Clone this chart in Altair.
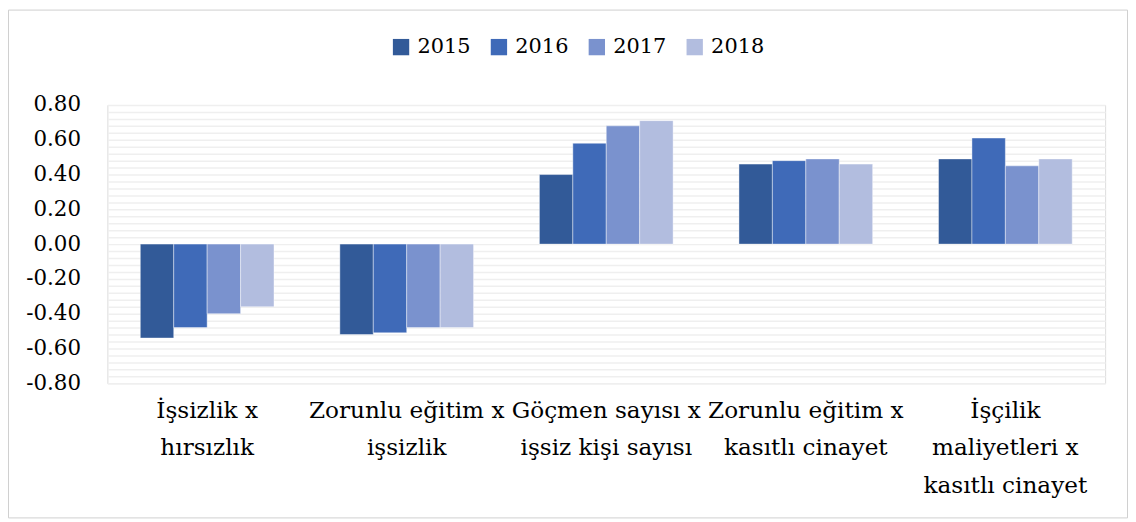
import altair as alt
import pandas as pd

categories = [
    "İşsizlik x\nhırsızlık",
    "Zorunlu eğitim x\nişsizlik",
    "Göçmen sayısı x\nişsiz kişi sayısı",
    "Zorunlu eğitim x\nkasıtlı cinayet",
    "İşçilik\nmaliyetleri x\nkasıtlı cinayet",
]
years = ["2015", "2016", "2017", "2018"]
v2015 = [-0.54, -0.52, 0.40, 0.46, 0.49]
v2016 = [-0.48, -0.51, 0.58, 0.48, 0.61]
v2017 = [-0.40, -0.48, 0.68, 0.49, 0.45]
v2018 = [-0.36, -0.48, 0.71, 0.46, 0.49]
colors = ["#325A98", "#3F6AB8", "#7A92CE", "#B2BDDF"]
major_ticks = [-0.8, -0.6, -0.4, -0.2, 0.0, 0.2, 0.4, 0.6, 0.8]
minor_ticks = [round(-0.8 + 0.04 * i, 2) for i in range(41)]

rows = []
for y, vals in zip(years, [v2015, v2016, v2017, v2018]):
    for c, v in zip(categories, vals):
        rows.append({"cat": c, "year": y, "value": v})
df = pd.DataFrame(rows)

FONT = "DejaVu Serif"
W, H = 1004, 280
PL, PT, PR, PB = 100, 96, 23, 136

yscale = alt.Scale(domain=[-0.8, 0.8], nice=False, zero=False)
xenc = alt.X(
    "cat:N", sort=categories, title=None,
    scale=alt.Scale(paddingInner=0.33, paddingOuter=0.165),
    axis=alt.Axis(labelAngle=0, labelAlign="center", labelBaseline="top",
                  ticks=False, domain=False, grid=False,
                  labelFontSize=23.3, labelFont=FONT, labelColor="#000000",
                  labelLineHeight=38, labelPadding=16, labelLimit=400,
                  labelOverlap=False,
                  labelExpr="split(datum.label, '\\n')"),
)

bars = alt.Chart(df).mark_bar(stroke="white", strokeWidth=0.6, strokeOpacity=0.7).encode(
    x=xenc,
    xOffset=alt.XOffset("year:N", sort=years),
    y=alt.Y("value:Q", scale=yscale, title=None,
            axis=alt.Axis(values=major_ticks, ticks=False, domain=False,
                          labelExpr="replace(format(datum.value, '.2f'), '\u2212', '-')",
                          labelFontSize=21.5, labelFont=FONT, labelColor="#000000",
                          labelPadding=27, gridColor="#d9d9d9", gridWidth=1.5)),
    color=alt.Color("year:N", sort=years,
                    scale=alt.Scale(domain=years, range=colors),
                    legend=alt.Legend(title=None, orient="none", legendX=285, legendY=-69,
                                      direction="horizontal", columns=4,
                                      symbolType="square", symbolSize=270,
                                      symbolStrokeWidth=0, labelFontSize=21,
                                      labelFont=FONT, labelColor="#000000",
                                      columnPadding=17.5, labelOffset=6)),
)

minor = alt.Chart(df).mark_bar(opacity=0).encode(
    x=alt.X("cat:N", sort=categories),
    y=alt.Y("value:Q", scale=yscale, title=None,
            axis=alt.Axis(orient="right", values=minor_ticks, labels=False, ticks=False,
                          domain=False, gridColor="#efefef", gridWidth=1.5)),
)

border = alt.Chart(alt.Data(values=[{}])).mark_rect(
    fill=None, stroke="#d0d0d0", strokeWidth=1
).encode(
    x=alt.value(-PL + 0.5), x2=alt.value(W + PR - 0.5),
    y=alt.value(-PT + 0.5), y2=alt.value(H + PB - 0.5),
)

chart = alt.layer(minor, bars, border).resolve_axis(y="independent").properties(
    width=W, height=H,
    autosize=alt.AutoSizeParams(type="none"),
    padding={"left": PL, "top": PT, "right": PR, "bottom": PB},
    background="white",
).configure_view(stroke=None).configure(font=FONT)

chart.save("out.html", embed_options={"renderer": "svg", "actions": False})
